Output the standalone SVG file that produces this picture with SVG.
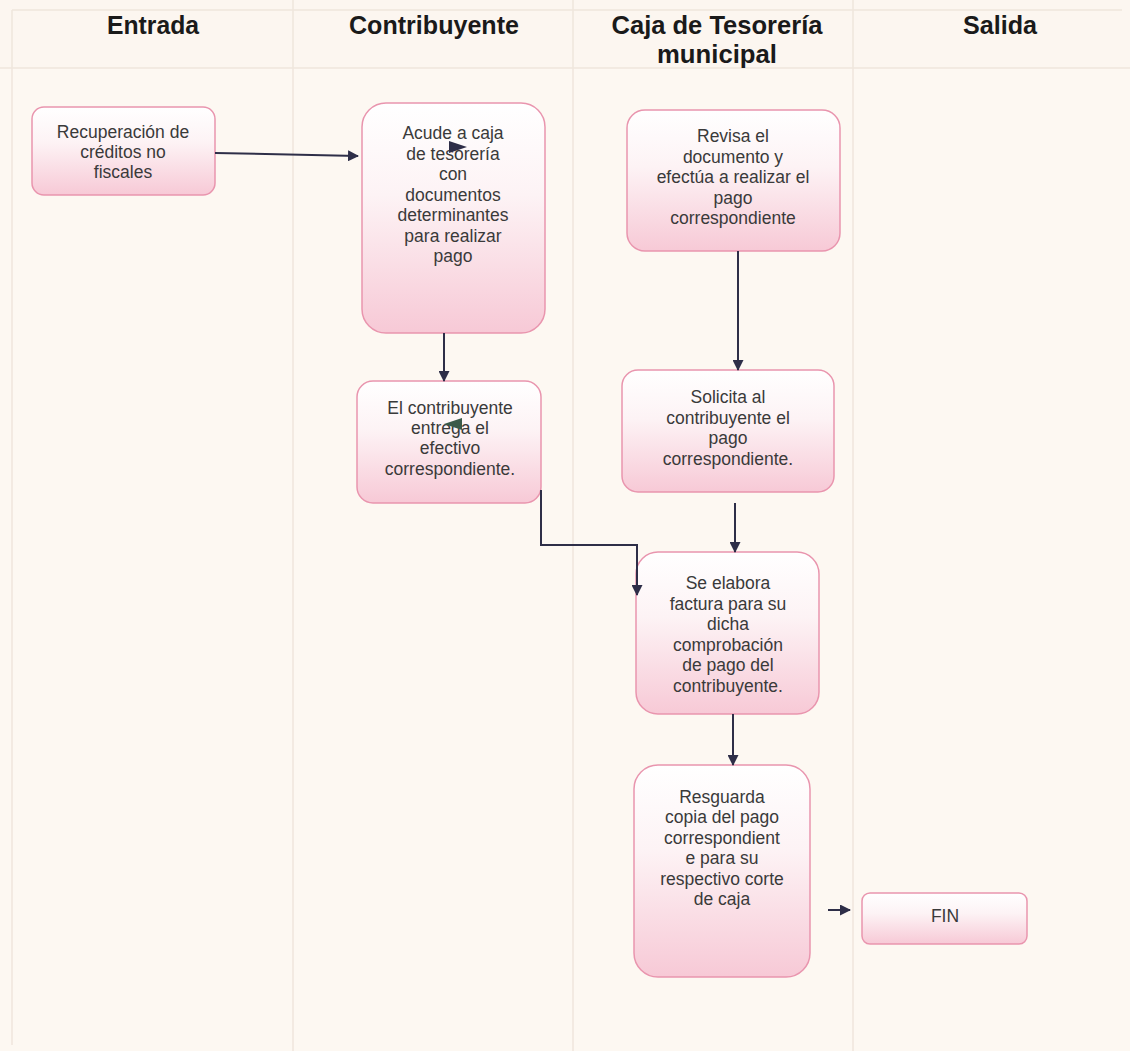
<svg xmlns="http://www.w3.org/2000/svg" width="1130" height="1051" viewBox="0 0 1130 1051">
<defs>
<linearGradient id="g" x1="0" y1="0" x2="0" y2="1">
<stop offset="0" stop-color="#ffffff"/>
<stop offset="0.4" stop-color="#fdf3f5"/>
<stop offset="1" stop-color="#f7c9d6"/>
</linearGradient>
<marker id="ah" markerWidth="11" markerHeight="11" refX="10" refY="5.5" orient="auto" markerUnits="userSpaceOnUse">
<path d="M0,0 L11,5.5 L0,11 z" fill="#2e2e48"/>
</marker>
</defs>
<style>
.node rect{fill:url(#g);stroke:#e995ae;stroke-width:1.5}
.t{font-family:"Liberation Sans",Arial,sans-serif;font-size:17.5px;fill:#3a3a3a;text-anchor:middle}
.h{font-family:"Liberation Sans",Arial,sans-serif;font-size:25px;font-weight:bold;fill:#1a1a1a;text-anchor:middle}
.c{fill:none;stroke:#2e2e48;stroke-width:2}
.lane{stroke:#efe6dc;stroke-width:1.5}
</style>
<rect x="0" y="0" width="1130" height="1051" fill="#fdf8f2"/>
<rect x="0" y="0" width="1130" height="68" fill="#fcf6f0"/>
<g id="lanes">
<line class="lane" x1="0" y1="68" x2="1130" y2="68"/>
<line class="lane" x1="293" y1="0" x2="293" y2="1051"/>
<line class="lane" x1="573" y1="0" x2="573" y2="1051"/>
<line class="lane" x1="853" y1="0" x2="853" y2="1051"/>
<line class="lane" x1="12" y1="10" x2="1122" y2="10"/>
<line class="lane" x1="12" y1="10" x2="12" y2="1045"/>
</g>
<g id="headers">
<text class="h" x="153" y="34" textLength="92" lengthAdjust="spacingAndGlyphs">Entrada</text>
<text class="h" x="434" y="34" textLength="170" lengthAdjust="spacingAndGlyphs">Contribuyente</text>
<text class="h" x="717" y="34" textLength="211" lengthAdjust="spacingAndGlyphs">Caja de Tesorería</text>
<text class="h" x="717" y="63" textLength="120" lengthAdjust="spacingAndGlyphs">municipal</text>
<text class="h" x="1000" y="34" textLength="74" lengthAdjust="spacingAndGlyphs">Salida</text>
</g>
<g id="n1" class="node">
<rect x="32" y="107" width="183" height="88" rx="12"/>
<text class="t" x="123" y="138">Recuperación de</text>
<text class="t" x="123" y="158">créditos no</text>
<text class="t" x="123" y="178">fiscales</text>
</g>
<g id="n2" class="node">
<rect x="362" y="103" width="183" height="230" rx="24"/>
<text class="t" x="453" y="139">Acude a caja</text>
<text class="t" x="453" y="160">de tesorería</text>
<text class="t" x="453" y="180">con</text>
<text class="t" x="453" y="201">documentos</text>
<text class="t" x="453" y="221">determinantes</text>
<text class="t" x="453" y="242">para realizar</text>
<text class="t" x="453" y="262">pago</text>
</g>
<g id="n3" class="node">
<rect x="357" y="381" width="184" height="122" rx="16"/>
<text class="t" x="450" y="414">El contribuyente</text>
<text class="t" x="450" y="434">entrega el</text>
<text class="t" x="450" y="454">efectivo</text>
<text class="t" x="450" y="475">correspondiente.</text>
</g>
<g id="n4" class="node">
<rect x="627" y="110" width="213" height="141" rx="18"/>
<text class="t" x="733" y="142">Revisa el</text>
<text class="t" x="733" y="163">documento y</text>
<text class="t" x="733" y="183">efectúa a realizar el</text>
<text class="t" x="733" y="204">pago</text>
<text class="t" x="733" y="224">correspondiente</text>
</g>
<g id="n5" class="node">
<rect x="622" y="370" width="212" height="122" rx="16"/>
<text class="t" x="728" y="403">Solicita al</text>
<text class="t" x="728" y="424">contribuyente el</text>
<text class="t" x="728" y="444">pago</text>
<text class="t" x="728" y="465">correspondiente.</text>
</g>
<g id="n6" class="node">
<rect x="636" y="552" width="183" height="162" rx="22"/>
<text class="t" x="728" y="589">Se elabora</text>
<text class="t" x="728" y="610">factura para su</text>
<text class="t" x="728" y="630">dicha</text>
<text class="t" x="728" y="651">comprobación</text>
<text class="t" x="728" y="671">de pago del</text>
<text class="t" x="728" y="692">contribuyente.</text>
</g>
<g id="n7" class="node">
<rect x="634" y="765" width="176" height="212" rx="24"/>
<text class="t" x="722" y="803">Resguarda</text>
<text class="t" x="722" y="823">copia del pago</text>
<text class="t" x="722" y="844">correspondient</text>
<text class="t" x="722" y="864">e para su</text>
<text class="t" x="722" y="885">respectivo corte</text>
<text class="t" x="722" y="905">de caja</text>
</g>
<g id="n8" class="node">
<rect x="862" y="893" width="165" height="51" rx="8"/>
<text class="t" x="945" y="922">FIN</text>
</g>
<g id="connectors">
<line class="c" x1="215" y1="153" x2="358" y2="156" marker-end="url(#ah)"/>
<line class="c" x1="444" y1="333" x2="444" y2="381" marker-end="url(#ah)"/>
<polyline class="c" points="541,490 541,545 637,545 637,595" marker-end="url(#ah)"/>
<line class="c" x1="738" y1="251" x2="738" y2="370" marker-end="url(#ah)"/>
<line class="c" x1="735" y1="503" x2="735" y2="552" marker-end="url(#ah)"/>
<line class="c" x1="733" y1="714" x2="733" y2="765" marker-end="url(#ah)"/>
<line class="c" x1="828" y1="910" x2="850" y2="910" marker-end="url(#ah)"/>
<path d="M449,141 L467,147 L449,153 z" fill="#2e2e48"/>
<path d="M462,418 L444,424 L462,430 z" fill="#3a5a4a"/>
</g>
</svg>
